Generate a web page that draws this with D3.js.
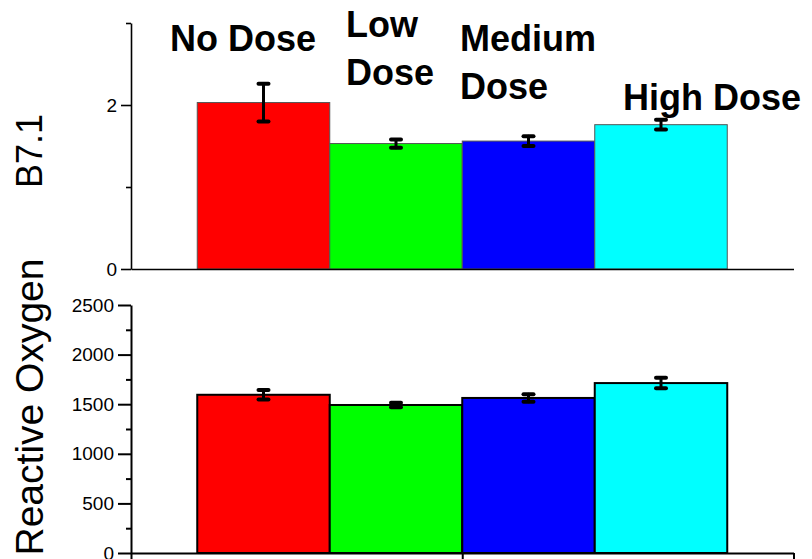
<!DOCTYPE html>
<html><head><meta charset="utf-8">
<script src="https://cdn.jsdelivr.net/npm/d3@7"></script>
<style>body{margin:0;background:#fff}svg{display:block}text{font-family:"Liberation Sans",Arial,sans-serif}</style>
</head><body>
<svg id="c" width="812" height="559"></svg>
<script>
const categories = ["No Dose", "Low Dose", "Medium Dose", "High Dose"];
const labelLines = [["No Dose"], ["Low", "Dose"], ["Medium", "Dose"], ["High Dose"]];
const colors = ["#ff0000", "#00ff00", "#0000ff", "#00ffff"];
const b71 = [2.03, 1.53, 1.56, 1.76];
const b71Err = [0.23, 0.05, 0.06, 0.06];
const ros = [1595, 1492, 1563, 1713];
const rosErr = [47, 23, 38, 53];
const topTicksMajor = [0, 2];
const topTicksMinor = [1, 3];
const botTicksMajor = [0, 500, 1000, 1500, 2000, 2500];
const botTicksMinor = [250, 750, 1250, 1750, 2250];
const xTicksBottom = [0, 2.5, 5];

const svg = d3.select("#c");
const x = d3.scaleLinear().domain([0, 5]).range([131, 793.5]);
const yTop = d3.scaleLinear().domain([0, 3]).range([269, 23]);
const yBot = d3.scaleLinear().domain([0, 2500]).range([553, 305]);
const pos = i => i + 1;

function panel(y, vals, errs, opts) {
  const g = svg.append("g");
  g.selectAll("rect").data(vals).join("rect")
    .attr("x", (d, i) => x(pos(i) - 0.5))
    .attr("width", (d, i) => x(pos(i) + 0.5) - x(pos(i) - 0.5))
    .attr("y", d => y(d))
    .attr("height", d => y(0) - y(d))
    .attr("fill", (d, i) => colors[i])
    .attr("stroke", opts.barStroke)
    .attr("stroke-width", opts.barStrokeW);
  const eg = g.append("g").attr("stroke", "#000").attr("stroke-linecap", "round");
  vals.forEach((v, i) => {
    const cx = x(pos(i));
    eg.append("line").attr("x1", cx).attr("x2", cx)
      .attr("y1", y(v + errs[i])).attr("y2", y(v - errs[i])).attr("stroke-width", 3);
    [v + errs[i], v - errs[i]].forEach(e => {
      eg.append("line").attr("x1", cx - 5).attr("x2", cx + 5)
        .attr("y1", y(e)).attr("y2", y(e)).attr("stroke-width", 4);
    });
  });
  const ax = g.append("g").attr("transform", `translate(${x(0)},0)`)
    .call(d3.axisLeft(y).tickValues(opts.major).tickFormat(d3.format("d"))
      .tickSize(opts.majorLen).tickSizeOuter(0).tickPadding(4));
  ax.attr("font-size", 19).attr("font-family", '"Liberation Sans",Arial,sans-serif');
  ax.selectAll("line,path").attr("stroke", "#000").attr("stroke-width", opts.axisW);
  ax.selectAll("text").attr("fill", "#000");
  const axm = g.append("g").attr("transform", `translate(${x(0)},0)`)
    .call(d3.axisLeft(y).tickValues(opts.minor).tickSize(5).tickFormat("").tickSizeOuter(0));
  axm.select("path").remove();
  axm.selectAll("line").attr("stroke", "#000").attr("stroke-width", opts.axisW);
  const xa = g.append("g").attr("transform", `translate(0,${y(0)})`)
    .call(d3.axisBottom(x).tickValues(opts.xticks).tickSize(6).tickFormat("").tickSizeOuter(0));
  xa.selectAll("line,path").attr("stroke", "#000").attr("stroke-width", opts.axisW);
  return g;
}

panel(yTop, b71, b71Err, {barStroke: "#555", barStrokeW: 1, axisW: 1.6,
  major: topTicksMajor, minor: topTicksMinor, majorLen: 10, xticks: []});
panel(yBot, ros, rosErr, {barStroke: "#000", barStrokeW: 2, axisW: 2,
  major: botTicksMajor, minor: botTicksMinor, majorLen: 13, xticks: xTicksBottom});

const labelPos = [[170, 51], [346, 37], [460, 51], [623, 110]];
labelLines.forEach((lines, i) => {
  const t = svg.append("text").attr("x", labelPos[i][0]).attr("y", labelPos[i][1])
    .attr("font-size", 36).attr("font-weight", "bold").attr("fill", "#000");
  lines.forEach((l, j) => t.append("tspan").attr("x", labelPos[i][0]).attr("dy", j ? 48 : 0).text(l));
});

svg.append("text").attr("transform", "translate(42,151) rotate(-90)")
  .attr("text-anchor", "middle").attr("font-size", 36).text("B7.1");
svg.append("text").attr("transform", "translate(43,407) rotate(-90)")
  .attr("text-anchor", "middle").attr("font-size", 39).text("Reactive Oxygen");
</script>
</body></html>
